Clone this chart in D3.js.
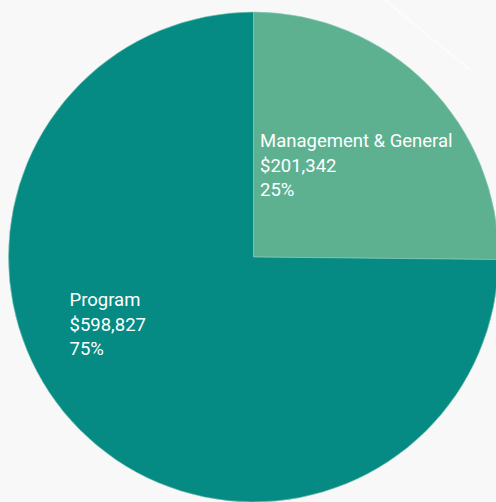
<!DOCTYPE html>
<html>
<head>
<meta charset="utf-8">
<script src="https://cdn.jsdelivr.net/npm/d3@7"></script>
<style>
  html, body { margin: 0; padding: 0; background: #f8f8f8; }
  svg { display: block; }
</style>
</head>
<body>
<script>
  // data
  var categories = ["Management & General", "Program"];
  var amounts = [201342, 598827];
  var colors = ["#5db190", "#068a84"];

  var w = 496, h = 502;
  var cx = 253.5, cy = 257, r = 245;

  var svg = d3.select("body").append("svg")
    .attr("width", w)
    .attr("height", h);

  // faint background streak
  svg.append("line")
    .attr("x1", 385).attr("y1", 0).attr("x2", 470).attr("y2", 70)
    .attr("stroke", "#ffffff").attr("stroke-width", 2).attr("opacity", 0.6);

  var total = d3.sum(amounts);
  var rows = categories.map(function(c, i) {
    return { name: c, value: amounts[i], color: colors[i] };
  });

  var pie = d3.pie()
    .value(function(d) { return d.value; })
    .sort(null);

  var arc = d3.arc().innerRadius(0).outerRadius(r);

  var g = svg.append("g")
    .attr("transform", "translate(" + cx + "," + cy + ")");

  var slices = g.selectAll("g.slice")
    .data(pie(rows))
    .enter()
    .append("g")
    .attr("class", "slice");

  slices.append("path")
    .attr("d", arc)
    .attr("fill", function(d) { return d.data.color; })
    .attr("stroke", "#8fcfb8")
    .attr("stroke-width", 0.6);

  // label anchor offsets from center (left edge, first baseline)
  var labelPos = [[6.5, -110], [-184, 49]];
  var fmtMoney = d3.format("$,");
  var fmtPct = d3.format(".0%");

  slices.each(function(d, i) {
    var t = d3.select(this).append("text")
      .attr("x", labelPos[i][0])
      .attr("y", labelPos[i][1])
      .attr("fill", "#ffffff")
      .attr("font-family", "Roboto, sans-serif")
      .attr("font-size", 18.5);
    var lines = [d.data.name, fmtMoney(d.data.value), fmtPct(d.data.value / total)];
    lines.forEach(function(s, k) {
      t.append("tspan")
        .attr("x", labelPos[i][0])
        .attr("dy", k === 0 ? 0 : 24.5)
        .text(s);
    });
  });
</script>
</body>
</html>
